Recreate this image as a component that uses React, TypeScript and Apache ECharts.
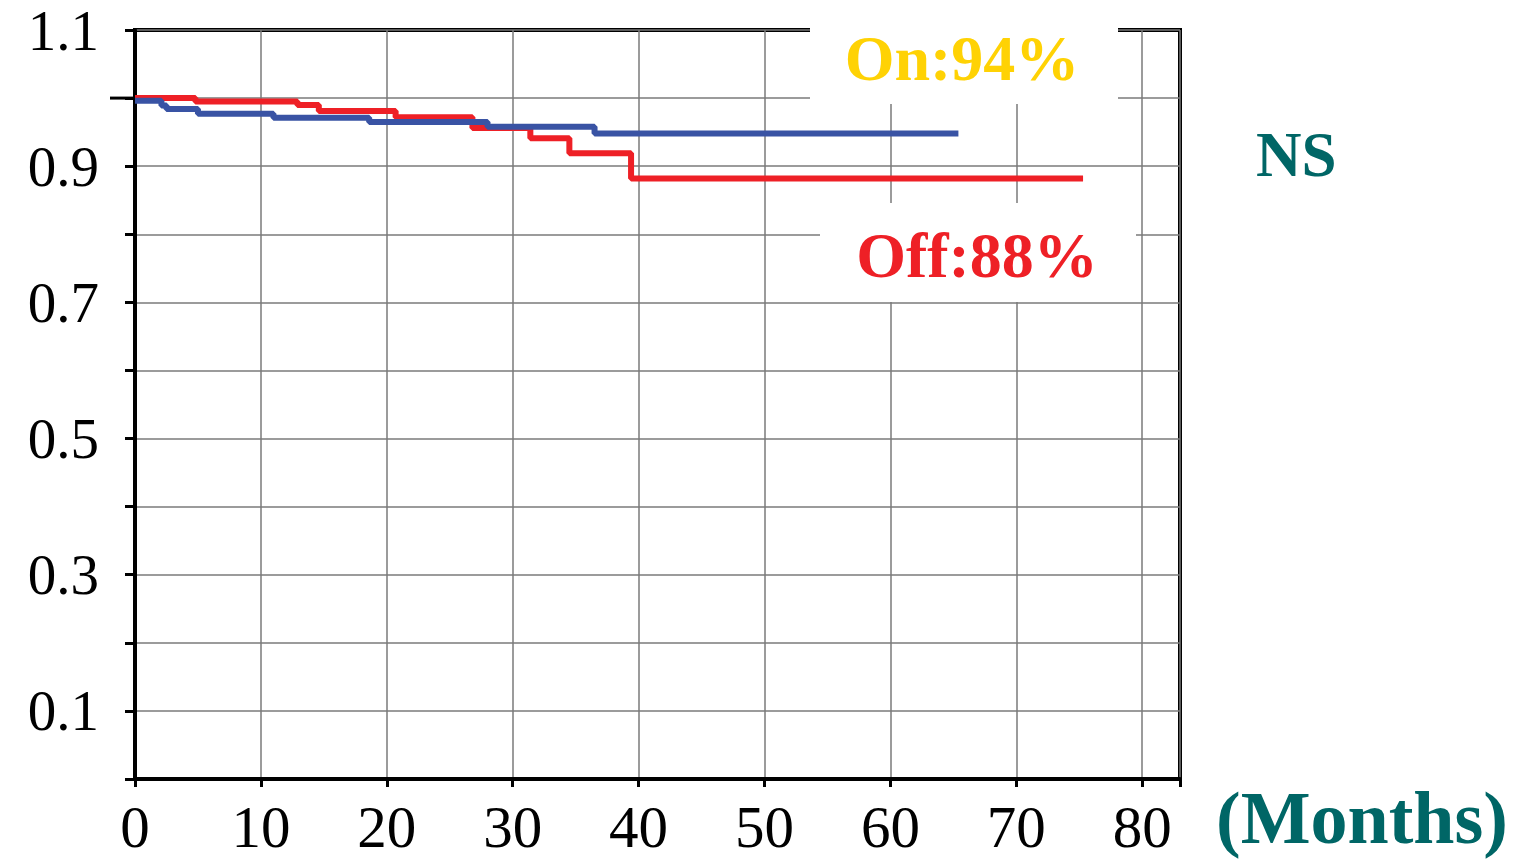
import React, { useEffect, useRef } from "react";
import * as echarts from "echarts";

// Kaplan–Meier style step data: [month, survival]
const onMonths = [0, 2.1, 2.5, 5.0, 11.0, 18.6, 28.0, 36.5, 65.4];
const onValues = [0.996, 0.989, 0.984, 0.977, 0.971, 0.965, 0.958, 0.948, 0.948];

const offMonths = [0, 4.8, 12.9, 14.6, 20.7, 26.8, 31.4, 34.5, 39.4, 75.3];
const offValues = [1.0, 0.995, 0.99, 0.981, 0.972, 0.956, 0.941, 0.919, 0.882, 0.882];

const xTickLabels = ["0", "10", "20", "30", "40", "50", "60", "70", "80"];
const yTickLabels = ["0.1", "0.3", "0.5", "0.7", "0.9", "1.1"];
const longTickValues = [1.0];

const onLabel = "On:94%";
const offLabel = "Off:88%";
const nsLabel = "NS";
const xUnitLabel = "(Months)";

const SERIF = "'Liberation Serif', 'Times New Roman', serif";
const RED = "#EE2026";
const BLUE = "#3953A4";
const GOLD = "#FFD204";
const TEAL = "#006666";

export default function App() {
  const ref = useRef<HTMLDivElement>(null);

  useEffect(() => {
    if (!ref.current) return;
    const chart = echarts.init(ref.current, undefined, { renderer: "svg" });

    const onData = onMonths.map((m, i) => [m, onValues[i]]);
    const offData = offMonths.map((m, i) => [m, offValues[i]]);

    chart.setOption({
      animation: false,
      backgroundColor: "#ffffff",
      grid: {
        left: 135,
        right: 339,
        top: 30,
        bottom: 80,
        show: true,
        borderColor: "#000",
        borderWidth: 4,
        backgroundColor: "transparent",
      },
      xAxis: {
        type: "value",
        min: 0,
        max: 83,
        interval: 10,
        axisLine: { show: true, onZero: false, lineStyle: { color: "#000", width: 4 } },
        axisTick: { show: true, length: 8, lineStyle: { color: "#000", width: 3 } },
        axisLabel: {
          margin: 18,
          fontFamily: SERIF,
          fontSize: 59,
          color: "#000",
          formatter: (v: number) => {
            const s = String(Math.round(v));
            return xTickLabels.includes(s) && Math.abs(v - Math.round(v)) < 1e-6 ? s : "";
          },
        },
        splitLine: { show: true, lineStyle: { color: "#7a7a7a", width: 1.5 } },
      },
      yAxis: {
        type: "value",
        min: 0,
        max: 1.1,
        interval: 0.1,
        axisLine: { show: true, onZero: false, lineStyle: { color: "#000", width: 4 } },
        axisTick: { show: true, length: 10, lineStyle: { color: "#000", width: 3 } },
        axisLabel: {
          margin: 36,
          fontFamily: SERIF,
          fontSize: 57,
          lineHeight: 44,
          color: "#000",
          formatter: (v: number) => {
            const s = v.toFixed(1);
            return yTickLabels.includes(s) ? s : "";
          },
        },
        splitLine: { show: true, lineStyle: { color: "#7a7a7a", width: 1.5 } },
      },
      series: [
        {
          name: "Off",
          type: "line",
          step: "end",
          data: offData,
          symbol: "none",
          lineStyle: { color: RED, width: 6 },
          z: 3,
        },
        {
          name: "On",
          type: "line",
          step: "end",
          data: onData,
          symbol: "none",
          lineStyle: { color: BLUE, width: 6 },
          z: 4,
        },
        {
          type: "custom",
          clip: false,
          silent: true,
          data: longTickValues.map((v) => [0, v]),
          renderItem: (params: any, api: any) => {
            const p = api.coord([api.value(0), api.value(1)]);
            return {
              type: "line",
              shape: { x1: p[0] - 25, y1: p[1], x2: p[0], y2: p[1] },
              style: { stroke: "#000", lineWidth: 3 },
            };
          },
          z: 5,
        },
      ],
      graphic: [
        {
          type: "rect",
          z: 100,
          shape: { x: 810, y: 0, width: 308, height: 104 },
          style: { fill: "#fff" },
        },
        {
          type: "rect",
          z: 100,
          shape: { x: 820, y: 203, width: 316, height: 99 },
          style: { fill: "#fff" },
        },
        {
          type: "text",
          z: 101,
          x: 962,
          y: 58,
          style: {
            text: onLabel,
            fill: GOLD,
            font: `bold 64px ${SERIF}`,
            textAlign: "center",
            textVerticalAlign: "middle",
          },
        },
        {
          type: "text",
          z: 101,
          x: 977,
          y: 255,
          style: {
            text: offLabel,
            fill: RED,
            font: `bold 64px ${SERIF}`,
            textAlign: "center",
            textVerticalAlign: "middle",
          },
        },
        {
          type: "text",
          z: 101,
          x: 1256,
          y: 155,
          style: {
            text: nsLabel,
            fill: TEAL,
            font: `bold 63px ${SERIF}`,
            textAlign: "left",
            textVerticalAlign: "middle",
          },
        },
        {
          type: "text",
          z: 101,
          x: 1216,
          y: 818,
          style: {
            text: xUnitLabel,
            fill: TEAL,
            font: `bold 74px ${SERIF}`,
            textAlign: "left",
            textVerticalAlign: "middle",
          },
        },
      ],
    });

    return () => chart.dispose();
  }, []);

  return (
    <div
      ref={ref}
      style={{ position: "fixed", left: 0, top: 0, width: 1519, height: 859, background: "#fff" }}
    />
  );
}
